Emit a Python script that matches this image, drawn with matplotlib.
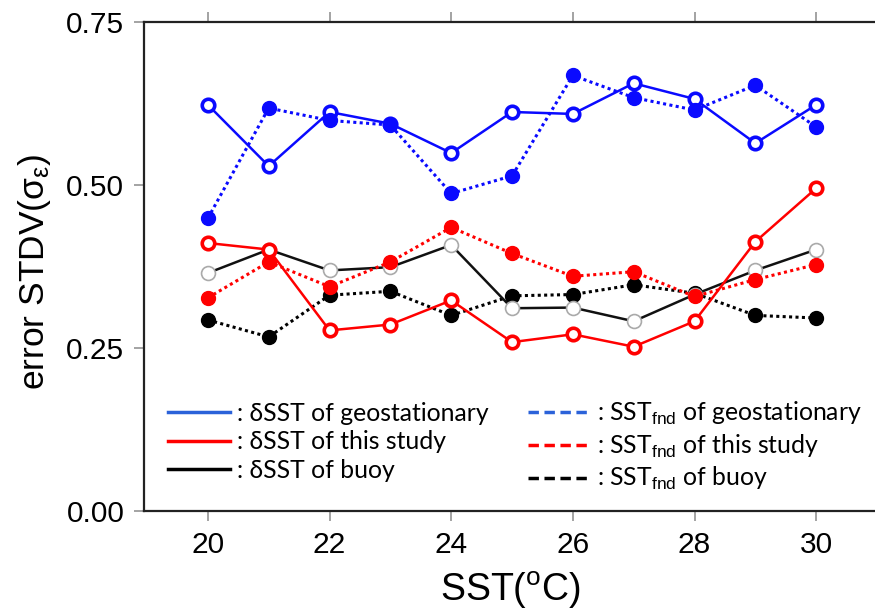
import matplotlib
matplotlib.use("Agg")
import matplotlib.pyplot as plt
from matplotlib.lines import Line2D

plt.rcParams['font.family'] = ['Liberation Sans', 'DejaVu Sans']
plt.rcParams['mathtext.fontset'] = 'custom'
plt.rcParams['mathtext.rm'] = 'Liberation Sans'
plt.rcParams['mathtext.it'] = 'Liberation Sans:italic'

# ---- data ----
sst = [20, 21, 22, 23, 24, 25, 26, 27, 28, 29, 30]
geo_dsst = [0.623, 0.529, 0.612, 0.594, 0.549, 0.612, 0.609, 0.656, 0.632, 0.564, 0.623]
geo_fnd = [0.449, 0.618, 0.599, 0.592, 0.487, 0.514, 0.668, 0.634, 0.615, 0.653, 0.589]
study_dsst = [0.411, 0.401, 0.277, 0.286, 0.323, 0.259, 0.271, 0.252, 0.291, 0.413, 0.495]
study_fnd = [0.327, 0.382, 0.344, 0.382, 0.435, 0.395, 0.360, 0.367, 0.329, 0.355, 0.378]
buoy_dsst = [0.365, 0.401, 0.369, 0.374, 0.408, 0.311, 0.312, 0.291, 0.332, 0.369, 0.401]
buoy_fnd = [0.293, 0.267, 0.331, 0.337, 0.300, 0.330, 0.332, 0.347, 0.334, 0.300, 0.296]

legend_labels = [": \u03b4SST of geostationary", ": \u03b4SST of this study", ": \u03b4SST of buoy",
                 ": SST$_{\\mathrm{fnd}}$ of geostationary", ": SST$_{\\mathrm{fnd}}$ of this study",
                 ": SST$_{\\mathrm{fnd}}$ of buoy"]
xticks = [20, 22, 24, 26, 28, 30]
yticks = [0.0, 0.25, 0.5, 0.75]
ytick_labels = ["0.00", "0.25", "0.50", "0.75"]

W, H = 875, 612
fig = plt.figure(figsize=(W / 100, H / 100), dpi=100)
ax = fig.add_axes([144 / W, (H - 511) / H, (877 - 144) / W, 489 / H])

BLUE = '#0a0aff'
RED = '#ff0000'
dot = (0, (1.0, 1.1))
ms = 10

# buoy
ax.plot(sst, buoy_fnd, linestyle=dot, color='black', lw=2.2, marker='o', ms=ms,
        mfc='black', mec='black', zorder=2)
ax.plot(sst, buoy_dsst, linestyle='-', color='#111111', lw=1.8, marker='o', ms=ms,
        mfc='white', mec='#aaaaaa', mew=1.2, zorder=3)
# this study
ax.plot(sst, study_fnd, linestyle=dot, color=RED, lw=2.2, marker='o', ms=ms,
        mfc=RED, mec=RED, zorder=4)
ax.plot(sst, study_dsst, linestyle='-', color=RED, lw=1.8, marker='o', ms=ms - 1,
        mfc='white', mec=RED, mew=2.6, zorder=5)
# geostationary
ax.plot(sst, geo_dsst, linestyle='-', color=BLUE, lw=1.8, marker='o', ms=ms - 1,
        mfc='white', mec=BLUE, mew=2.6, zorder=6)
ax.plot(sst, geo_fnd, linestyle=dot, color=BLUE, lw=2.2, marker='o', ms=ms,
        mfc=BLUE, mec=BLUE, zorder=7)

ax.set_xlim(18.95, 31)
ax.set_ylim(0, 0.75)
ax.set_xticks(xticks)
ax.set_yticks(yticks)
ax.set_yticklabels(ytick_labels)
ax.tick_params(axis='x', which='both', direction='out', top=True, bottom=True,
               labeltop=False, length=7.2, width=1.1, color='#8a8a8a',
               labelsize=21.5, pad=7.5)
ax.tick_params(axis='y', direction='out', left=True, right=False, length=7.2,
               width=1.1, color='#8a8a8a', labelsize=21.5, pad=7)
for s in ax.spines.values():
    s.set_linewidth(1.6)
    s.set_color('#222222')

ax.set_xlabel("SST($^{\\mathrm{o}}$C)", fontsize=27)
ax.xaxis.set_label_coords(0.5, -0.12)
ax.set_ylabel("error STDV(\u03c3$_{\\mathrm{\u03b5}}$)", fontsize=25.5)
ax.yaxis.set_label_coords(-0.124, 0.49)

LBLUE = '#2b62d9'
handles = [
    Line2D([], [], color=LBLUE, lw=2.5, ls='-'),
    Line2D([], [], color=RED, lw=2.5, ls='-'),
    Line2D([], [], color='black', lw=2.5, ls='-'),
    Line2D([], [], color=LBLUE, lw=2.5, ls=(0, (3.0, 1.6))),
    Line2D([], [], color=RED, lw=2.5, ls=(0, (3.0, 1.6))),
    Line2D([], [], color='black', lw=2.5, ls=(0, (3.0, 1.6))),
]
leg = fig.legend(handles, legend_labels, ncol=2, frameon=False,
                 loc='upper left', bbox_to_anchor=(168 / W, 1 - 400 / H),
                 bbox_transform=fig.transFigure, borderpad=0, borderaxespad=0,
                 handlelength=2.5, handletextpad=0.28, columnspacing=1.6,
                 labelspacing=0.22,
                 prop={'family': ['Lato', 'DejaVu Sans'], 'size': 17.8})

fig.savefig('out.png', dpi=100)
